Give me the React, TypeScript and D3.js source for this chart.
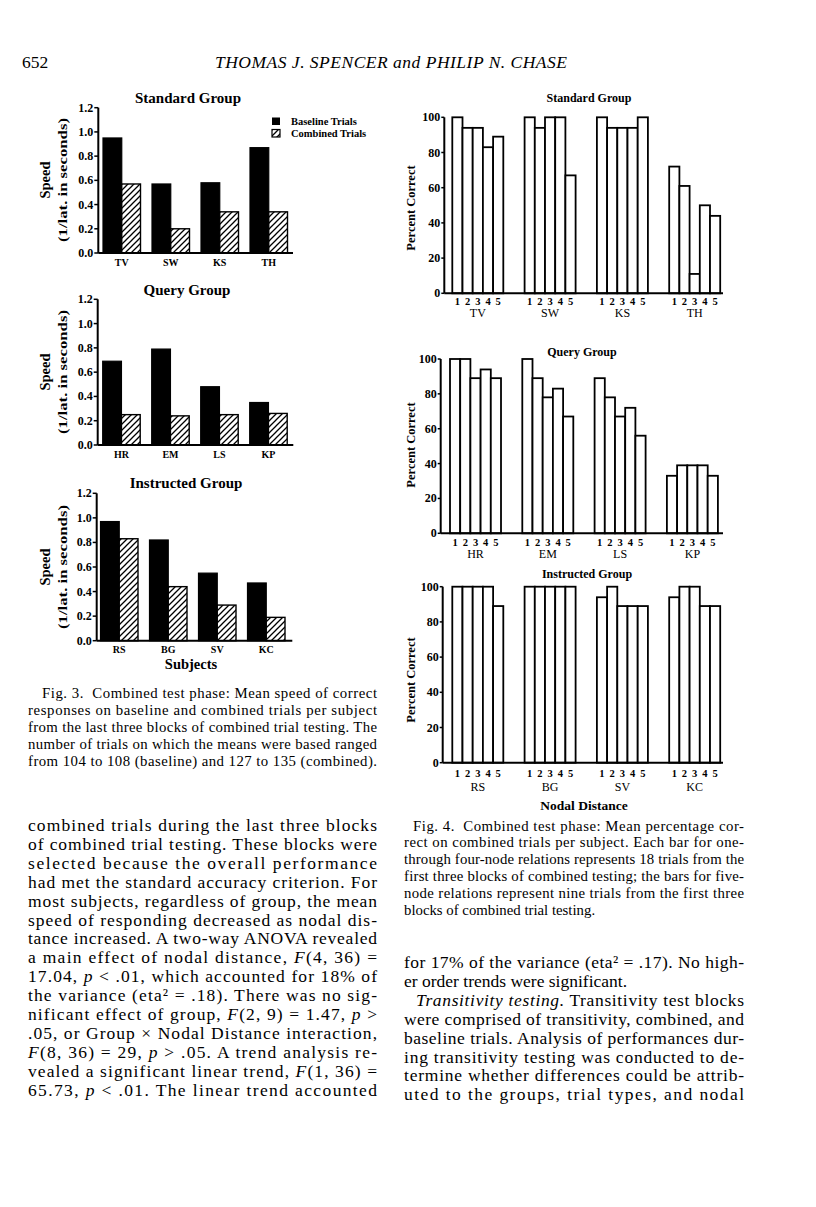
import React from "react"
import * as d3 from "d3"

// Fig. 3 - mean speed (1/latency) per subject
const standardSubjects = ["TV", "SW", "KS", "TH"]
const standardBaseline = [0.95, 0.57, 0.58, 0.87]
const standardCombined = [0.57, 0.2, 0.34, 0.34]

const querySubjects = ["HR", "EM", "LS", "KP"]
const queryBaseline = [0.69, 0.79, 0.48, 0.35]
const queryCombined = [0.25, 0.24, 0.25, 0.26]

const instructedSubjects = ["RS", "BG", "SV", "KC"]
const instructedBaseline = [0.97, 0.82, 0.55, 0.47]
const instructedCombined = [0.83, 0.44, 0.29, 0.19]

const speedTicks = [0, 0.2, 0.4, 0.6, 0.8, 1.0, 1.2]
const trialTypes = ["Baseline Trials", "Combined Trials"]

// Fig. 4 - percent correct per nodal distance (1..5) per subject
const nodalDistances = ["1", "2", "3", "4", "5"]
const standardPercent = [
	[100, 94, 94, 83, 89],
	[100, 94, 100, 100, 67],
	[100, 94, 94, 94, 100],
	[72, 61, 11, 50, 44],
]
const queryPercent = [
	[100, 100, 89, 94, 89],
	[100, 89, 78, 83, 67],
	[89, 78, 67, 72, 56],
	[33, 39, 39, 39, 33],
]
const instructedPercent = [
	[100, 100, 100, 100, 89],
	[100, 100, 100, 100, 100],
	[94, 100, 89, 89, 89],
	[94, 100, 100, 89, 89],
]
const percentTicks = [0, 20, 40, 60, 80, 100]

// page text (*...* = italic)
const fig3Caption = [
	"Fig. 3.  Combined test phase: Mean speed of correct",
	"responses on baseline and combined trials per subject",
	"from the last three blocks of combined trial testing. The",
	"number of trials on which the means were based ranged",
	"from 104 to 108 (baseline) and 127 to 135 (combined).",
]
const fig4Caption = [
	"Fig. 4.  Combined test phase: Mean percentage cor-",
	"rect on combined trials per subject. Each bar for one-",
	"through four-node relations represents 18 trials from the",
	"first three blocks of combined testing; the bars for five-",
	"node relations represent nine trials from the first three",
	"blocks of combined trial testing.",
]
const leftBody = [
	"combined trials during the last three blocks",
	"of combined trial testing. These blocks were",
	"selected because the overall performance",
	"had met the standard accuracy criterion. For",
	"most subjects, regardless of group, the mean",
	"speed of responding decreased as nodal dis-",
	"tance increased. A two-way ANOVA revealed",
	"a main effect of nodal distance, *F*(4, 36) =",
	"17.04, *p* < .01, which accounted for 18% of",
	"the variance (eta² = .18). There was no sig-",
	"nificant effect of group, *F*(2, 9) = 1.47, *p* >",
	".05, or Group × Nodal Distance interaction,",
	"*F*(8, 36) = 29, *p* > .05. A trend analysis re-",
	"vealed a significant linear trend, *F*(1, 36) =",
	"65.73, *p* < .01. The linear trend accounted",
]
const rightBody = [
	"for 17% of the variance (eta² = .17). No high-",
	"er order trends were significant.",
	"*Transitivity testing.* Transitivity test blocks",
	"were comprised of transitivity, combined, and",
	"baseline trials. Analysis of performances dur-",
	"ing transitivity testing was conducted to de-",
	"termine whether differences could be attrib-",
	"uted to the groups, trial types, and nodal",
]

const SERIF = "'Liberation Serif', 'Times New Roman', serif"

function Line({ x, y, text, width, size }: any) {
	const parts = text.split("*")
	return (
		<text
			x={x}
			y={y}
			fontFamily={SERIF}
			fontSize={size}
			textLength={width}
			lengthAdjust={width ? "spacing" : undefined}
			xmlSpace="preserve">
			{parts.map((p: string, i: number) => (
				<tspan key={i} fontStyle={i % 2 === 1 ? "italic" : undefined}>
					{p}
				</tspan>
			))}
		</text>
	)
}

function Paragraph({ lines, x, right, y0, step, size, indents, ragged }: any) {
	return (
		<g>
			{lines.map((l: string, i: number) => {
				const lx = x + (indents[i] || 0)
				const w = ragged.includes(i) ? undefined : right - lx
				return <Line key={i} x={lx} y={y0 + i * step} text={l} width={w} size={size} />
			})}
		</g>
	)
}

function SpeedChart({
	title,
	subjects,
	baseline,
	combined,
	yTop,
	yBottom,
	axisX,
	barStart,
	axisEnd,
	titleX,
	titleY,
	labelY,
	legend,
	xTitle,
}: any) {
	const y = d3.scaleLinear().domain([0, 1.2]).range([yBottom, yTop])
	const x = d3
		.scaleBand()
		.domain(subjects)
		.range([barStart, barStart + 184.5])
		.paddingInner(0.2347)
	const inner = d3.scaleBand().domain(trialTypes).range([0, x.bandwidth()])
	const fmt = d3.format(".1f")

	return (
		<g fontFamily={SERIF}>
			<text x={titleX} y={titleY + 5} textAnchor="middle" fontWeight="bold" fontSize={15}>
				{title}
			</text>
			{subjects.map((s: string, i: number) => (
				<g key={s}>
					<rect
						x={x(s)! + inner(trialTypes[0])!}
						y={y(baseline[i])}
						width={inner.bandwidth()}
						height={yBottom - y(baseline[i])}
						fill="#000"
						stroke="#000"
						strokeWidth={1.2}
					/>
					<rect
						x={x(s)! + inner(trialTypes[1])!}
						y={y(combined[i])}
						width={inner.bandwidth()}
						height={yBottom - y(combined[i])}
						fill="url(#hatch)"
						stroke="#000"
						strokeWidth={1.4}
					/>
					<text
						x={x(s)! + x.bandwidth() / 2}
						y={yBottom + 12.5}
						textAnchor="middle"
						fontWeight="bold"
						fontSize={10}>
						{s}
					</text>
				</g>
			))}
			<line x1={axisX} x2={axisX} y1={yTop} y2={yBottom} stroke="#000" strokeWidth={2} />
			<line x1={axisX} x2={axisEnd} y1={yBottom} y2={yBottom} stroke="#000" strokeWidth={2} />
			{speedTicks.map((t) => (
				<g key={t}>
					<line x1={axisX - 4} x2={axisX} y1={y(t)} y2={y(t)} stroke="#000" strokeWidth={1.5} />
					<text
						x={axisX - 5}
						y={y(t) + 4}
						textAnchor="end"
						fontWeight="bold"
						fontSize={12}>
						{fmt(t)}
					</text>
				</g>
			))}
			<text
				transform={`translate(50,${labelY}) rotate(-90)`}
				textAnchor="middle"
				fontWeight="bold"
				fontSize={14.5}>
				Speed
			</text>
			<text
				transform={`translate(67,${labelY}) rotate(-90)`}
				textAnchor="middle"
				fontWeight="bold"
				fontSize={13.5}
				textLength={124}
				lengthAdjust="spacingAndGlyphs">
				(1/lat. in seconds)
			</text>
			{legend && (
				<g fontWeight="bold" fontSize={10.5}>
					<rect x={272} y={117.5} width={8} height={7.5} fill="#000" />
					<rect x={272} y={129.5} width={8} height={7.5} fill="url(#hatch)" stroke="#000" strokeWidth={1.2} />
					<text x={291} y={125}>
						{trialTypes[0]}
					</text>
					<text x={291} y={137}>
						{trialTypes[1]}
					</text>
				</g>
			)}
			{xTitle && (
				<text x={191} y={669} textAnchor="middle" fontWeight="bold" fontSize={14.5}>
					{xTitle}
				</text>
			)}
		</g>
	)
}

function PercentChart({
	title,
	subjects,
	values,
	yTop,
	yBottom,
	axisX,
	barStart,
	titleX,
	titleY,
	labelY,
	numY,
	subjY,
	xTitle,
}: any) {
	const y = d3.scaleLinear().domain([0, 100]).range([yBottom, yTop])
	const x = d3
		.scaleBand()
		.domain(subjects)
		.range([barStart, barStart + 267.9])
		.paddingInner(0.2946)
	const inner = d3.scaleBand().domain(nodalDistances).range([0, x.bandwidth()])

	return (
		<g fontFamily={SERIF}>
			<text x={titleX} y={titleY + 4} textAnchor="middle" fontWeight="bold" fontSize={12}>
				{title}
			</text>
			{subjects.map((s: string, i: number) => (
				<g key={s}>
					{nodalDistances.map((d, j) => (
						<rect
							key={d}
							x={x(s)! + inner(d)!}
							y={y(values[i][j])}
							width={inner.bandwidth()}
							height={yBottom - y(values[i][j])}
							fill="#fff"
							stroke="#000"
							strokeWidth={1.8}
						/>
					))}
					{nodalDistances.map((d) => (
						<text
							key={d}
							x={x(s)! + inner(d)! + inner.bandwidth() / 2}
							y={numY + 3.5}
							textAnchor="middle"
							fontWeight="bold"
							fontSize={10.5}>
							{d}
						</text>
					))}
					<text x={x(s)! + x.bandwidth() / 2} y={subjY + 4} textAnchor="middle" fontSize={12}>
						{s}
					</text>
				</g>
			))}
			<line x1={axisX} x2={axisX} y1={yTop} y2={yBottom} stroke="#000" strokeWidth={2} />
			<line x1={axisX} x2={723} y1={yBottom} y2={yBottom} stroke="#000" strokeWidth={2} />
			{percentTicks.map((t) => (
				<g key={t}>
					<line x1={axisX - 3} x2={axisX} y1={y(t)} y2={y(t)} stroke="#000" strokeWidth={1.5} />
					<text x={axisX - 4} y={y(t) + 4} textAnchor="end" fontWeight="bold" fontSize={12}>
						{t}
					</text>
				</g>
			))}
			<text
				transform={`translate(415,${labelY}) rotate(-90)`}
				textAnchor="middle"
				fontWeight="bold"
				fontSize={12.5}>
				Percent Correct
			</text>
			{xTitle && (
				<text x={584} y={809.5} textAnchor="middle" fontWeight="bold" fontSize={13.5}>
					{xTitle}
				</text>
			)}
		</g>
	)
}

export default function App() {
	return (
		<svg
			width={816}
			height={1207}
			style={{ position: "absolute", left: 0, top: 0, background: "#fff" }}>
			<defs>
				<pattern id="hatch" patternUnits="userSpaceOnUse" width={6} height={6}>
					<rect width={6} height={6} fill="#fff" />
					<path d="M-1,1 l2,-2 M0,6 l6,-6 M5,7 l2,-2" stroke="#000" strokeWidth={1.3} />
				</pattern>
			</defs>
			<rect width={816} height={1207} fill="#fff" />

			{/* running head */}
			<text x={22} y={68} fontFamily={SERIF} fontSize={17.5}>
				652
			</text>
			<text
				x={215}
				y={68}
				fontFamily={SERIF}
				fontSize={17.5}
				fontStyle="italic"
				textLength={352}
				lengthAdjust="spacing">
				THOMAS J. SPENCER and PHILIP N. CHASE
			</text>

			{/* Fig. 3 */}
			<SpeedChart
				title="Standard Group"
				subjects={standardSubjects}
				baseline={standardBaseline}
				combined={standardCombined}
				yTop={107.7}
				yBottom={253}
				axisX={98.3}
				barStart={103}
				axisEnd={293}
				titleX={188}
				titleY={98}
				labelY={180}
				legend
			/>
			<SpeedChart
				title="Query Group"
				subjects={querySubjects}
				baseline={queryBaseline}
				combined={queryCombined}
				yTop={299.3}
				yBottom={445}
				axisX={97.7}
				barStart={102.7}
				axisEnd={293.3}
				titleX={187}
				titleY={290}
				labelY={372}
			/>
			<SpeedChart
				title="Instructed Group"
				subjects={instructedSubjects}
				baseline={instructedBaseline}
				combined={instructedCombined}
				yTop={493.3}
				yBottom={640.7}
				axisX={96.7}
				barStart={100.5}
				axisEnd={292.3}
				titleX={186}
				titleY={483}
				labelY={567}
				xTitle="Subjects"
			/>

			{/* Fig. 4 */}
			<PercentChart
				title="Standard Group"
				subjects={standardSubjects}
				values={standardPercent}
				yTop={117.3}
				yBottom={293.3}
				axisX={444.3}
				barStart={452.3}
				titleX={589}
				titleY={98}
				labelY={208}
				numY={301.7}
				subjY={312.5}
			/>
			<PercentChart
				title="Query Group"
				subjects={querySubjects}
				values={queryPercent}
				yTop={359}
				yBottom={533.3}
				axisX={440.7}
				barStart={450}
				titleX={582}
				titleY={351.7}
				labelY={445}
				numY={542.7}
				subjY={553.5}
			/>
			<PercentChart
				title="Instructed Group"
				subjects={instructedSubjects}
				values={instructedPercent}
				yTop={586.7}
				yBottom={762.7}
				axisX={442.7}
				barStart={452.3}
				titleX={587}
				titleY={574.3}
				labelY={680}
				numY={773.3}
				subjY={786.7}
				xTitle="Nodal Distance"
			/>

			{/* captions and body text */}
			<Paragraph lines={fig3Caption} x={28} right={377} y0={697.5} step={17} size={14.8} indents={[14]} ragged={[]} />
			<Paragraph lines={fig4Caption} x={404} right={744} y0={830.5} step={16.9} size={14.8} indents={[9]} ragged={[5]} />
			<Paragraph lines={leftBody} x={28} right={377} y0={831} step={18.9} size={17.5} indents={[]} ragged={[]} />
			<Paragraph lines={rightBody} x={404} right={744} y0={968} step={18.9} size={17.5} indents={[0, 0, 12]} ragged={[1]} />
		</svg>
	)
}
